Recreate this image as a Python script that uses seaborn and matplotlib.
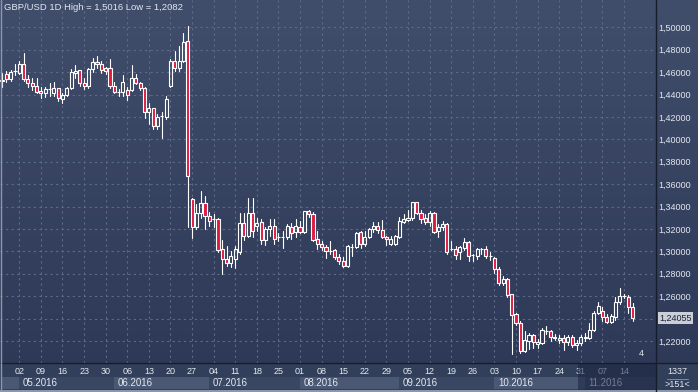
import numpy as np
import pandas as pd
import matplotlib
matplotlib.use("Agg")
import matplotlib.pyplot as plt
import seaborn as sns
from matplotlib.patches import Rectangle
from matplotlib.lines import Line2D
from matplotlib.colors import LinearSegmentedColormap

# ---------------- data (GBP/USD daily OHLC) ----------------
start_date = "2016-04-26"
opens = [1.452, 1.458, 1.454, 1.461, 1.459, 1.467, 1.454, 1.450, 1.448, 1.443,
         1.441, 1.445, 1.441, 1.446, 1.436, 1.440, 1.446, 1.459, 1.462, 1.450,
         1.448, 1.463, 1.469, 1.467, 1.464, 1.464, 1.448, 1.442, 1.442, 1.444,
         1.444, 1.455, 1.450, 1.446, 1.424, 1.428, 1.412, 1.421, 1.420, 1.448,
         1.470, 1.464, 1.470, 1.488, 1.347, 1.322, 1.334, 1.343, 1.332, 1.329,
         1.329, 1.302, 1.293, 1.290, 1.293, 1.299, 1.325, 1.314, 1.334,
         1.323, 1.326, 1.310, 1.320, 1.323, 1.313, 1.313, 1.313, 1.322, 1.317,
         1.322, 1.317, 1.336, 1.333, 1.311, 1.307, 1.304, 1.300, 1.301, 1.295,
         1.291, 1.287, 1.304, 1.304, 1.317, 1.307, 1.313, 1.320, 1.323,
         1.319, 1.313, 1.307, 1.307, 1.313, 1.326, 1.328, 1.330, 1.344, 1.334,
         1.330, 1.326, 1.334, 1.318, 1.322, 1.324, 1.302, 1.302, 1.299, 1.303,
         1.308, 1.297, 1.296, 1.302, 1.302, 1.296, 1.294, 1.284, 1.272,
         1.275, 1.262, 1.244, 1.236, 1.211, 1.220, 1.225, 1.217, 1.218, 1.229,
         1.229, 1.223, 1.221, 1.223, 1.219, 1.224, 1.216, 1.218, 1.223, 1.223,
         1.230, 1.245, 1.247, 1.241, 1.237, 1.241, 1.255, 1.260, 1.259, 1.250]
highs = [1.459, 1.461, 1.462, 1.467, 1.470, 1.477, 1.457, 1.455, 1.455, 1.447,
         1.447, 1.450, 1.451, 1.446, 1.441, 1.447, 1.463, 1.466, 1.462, 1.455,
         1.464, 1.473, 1.474, 1.470, 1.465, 1.472, 1.451, 1.445, 1.457, 1.447,
         1.466, 1.458, 1.451, 1.447, 1.432, 1.428, 1.423, 1.424, 1.439, 1.472,
         1.479, 1.483, 1.495, 1.5016, 1.348, 1.342, 1.354, 1.349, 1.335, 1.333,
         1.330, 1.310, 1.305, 1.300, 1.305, 1.334, 1.334, 1.348, 1.348,
         1.330, 1.329, 1.322, 1.329, 1.329, 1.316, 1.318, 1.324, 1.325, 1.329,
         1.327, 1.336, 1.337, 1.335, 1.318, 1.309, 1.306, 1.309, 1.302, 1.298,
         1.295, 1.306, 1.307, 1.317, 1.318, 1.318, 1.321, 1.326, 1.326,
         1.328, 1.314, 1.314, 1.315, 1.331, 1.333, 1.337, 1.344, 1.344, 1.337,
         1.333, 1.336, 1.335, 1.324, 1.327, 1.325, 1.309, 1.305, 1.305, 1.312,
         1.309, 1.298, 1.303, 1.303, 1.305, 1.299, 1.295, 1.286, 1.278,
         1.276, 1.262, 1.245, 1.238, 1.229, 1.227, 1.226, 1.222, 1.232, 1.233,
         1.230, 1.226, 1.225, 1.225, 1.225, 1.225, 1.221, 1.225, 1.227, 1.236,
         1.247, 1.255, 1.250, 1.244, 1.244, 1.259, 1.267, 1.262, 1.261, 1.254]
lows = [1.447, 1.451, 1.452, 1.457, 1.458, 1.452, 1.447, 1.444, 1.441, 1.437,
        1.438, 1.439, 1.439, 1.434, 1.432, 1.439, 1.445, 1.455, 1.448, 1.445,
        1.446, 1.460, 1.464, 1.459, 1.458, 1.446, 1.441, 1.439, 1.439, 1.435,
        1.443, 1.449, 1.444, 1.419, 1.414, 1.409, 1.409, 1.401, 1.418, 1.447,
        1.461, 1.461, 1.469, 1.322, 1.312, 1.320, 1.330, 1.320, 1.323, 1.322,
        1.299, 1.280, 1.287, 1.286, 1.285, 1.298, 1.310, 1.313, 1.313,
        1.318, 1.307, 1.306, 1.314, 1.307, 1.309, 1.303, 1.311, 1.311, 1.313,
        1.316, 1.316, 1.331, 1.309, 1.302, 1.301, 1.294, 1.298, 1.293, 1.289,
        1.286, 1.286, 1.296, 1.303, 1.303, 1.305, 1.312, 1.317, 1.316,
        1.312, 1.306, 1.306, 1.306, 1.312, 1.325, 1.327, 1.328, 1.333, 1.325,
        1.324, 1.323, 1.316, 1.313, 1.319, 1.298, 1.301, 1.293, 1.293, 1.301,
        1.291, 1.291, 1.293, 1.298, 1.294, 1.292, 1.281, 1.270, 1.270,
        1.259, 1.2082, 1.234, 1.209, 1.210, 1.213, 1.214, 1.214, 1.217, 1.226,
        1.220, 1.221, 1.218, 1.212, 1.216, 1.215, 1.212, 1.216, 1.220, 1.222,
        1.229, 1.244, 1.238, 1.236, 1.236, 1.239, 1.253, 1.258, 1.245, 1.238]
closes = [1.453, 1.454, 1.460, 1.4612, 1.467, 1.454, 1.450, 1.448, 1.442, 1.441,
          1.445, 1.4452, 1.446, 1.437, 1.440, 1.446, 1.460, 1.461, 1.450, 1.448,
          1.463, 1.469, 1.467, 1.462, 1.461, 1.448, 1.442, 1.4422, 1.451, 1.440,
          1.455, 1.450, 1.446, 1.424, 1.428, 1.412, 1.420, 1.4212, 1.436, 1.470,
          1.464, 1.470, 1.487, 1.367, 1.322, 1.334, 1.343, 1.332, 1.327, 1.3292,
          1.301, 1.293, 1.290, 1.296, 1.302, 1.325, 1.314, 1.334, 1.318,
          1.325, 1.310, 1.320, 1.323, 1.311, 1.3132, 1.3132, 1.323, 1.316, 1.323,
          1.317, 1.336, 1.333, 1.310, 1.307, 1.304, 1.300, 1.3002, 1.295, 1.291,
          1.287, 1.305, 1.3042, 1.316, 1.307, 1.313, 1.320, 1.323, 1.319,
          1.313, 1.311, 1.311, 1.314, 1.327, 1.329, 1.330, 1.344, 1.334, 1.329,
          1.326, 1.334, 1.317, 1.322, 1.324, 1.299, 1.3022, 1.297, 1.304, 1.308,
          1.296, 1.2972, 1.302, 1.3022, 1.296, 1.2962, 1.284, 1.272, 1.275,
          1.261, 1.243, 1.236, 1.211, 1.221, 1.225, 1.219, 1.219, 1.230, 1.2292,
          1.224, 1.224, 1.223, 1.219, 1.224, 1.216, 1.218, 1.224, 1.2232, 1.230,
          1.245, 1.251, 1.241, 1.237, 1.242, 1.255, 1.260, 1.2602, 1.250, 1.24055]
price_ticks = [1.22, 1.24, 1.26, 1.28, 1.30, 1.32, 1.34, 1.36, 1.38, 1.40,
               1.42, 1.44, 1.46, 1.48, 1.50]
title_text = "GBP/USD 1D High = 1,5016 Low = 1,2082"
corner_top, corner_bottom, corner_mark = "1337", ">151<", "4"

# ---------------- styling ----------------
sns.set_theme(style="dark")
plt.rcParams["font.family"] = ["Liberation Sans", "DejaVu Sans"]
TXT = "#e3e8f1"
W, H = 698, 392

o = np.array(opens); h = np.array(highs); l = np.array(lows); c = np.array(closes)
n = len(o)
x = np.arange(n)
dates = pd.bdate_range(start_date, periods=n)

fig = plt.figure(figsize=(W / 100, H / 100), dpi=100)

# gradient background
bg = fig.add_axes([0, 0, 1, 1], zorder=0)
cmap = LinearSegmentedColormap.from_list("bg", ["#2c3855", "#404d6b"])
bg.imshow(np.linspace(0, 1, 256).reshape(-1, 1)[::-1], aspect="auto", cmap=cmap,
          extent=[0, 1, 0, 1])
bg.set_axis_off()

ax = fig.add_axes([0, 29 / H, 656 / W, 363 / H], zorder=2)
ax.patch.set_alpha(0)

up = c >= o
body_lo = np.minimum(o, c)
body_hi = np.maximum(o, c)
body_h = np.maximum(body_hi - body_lo, 0.00012)

# wicks drawn with seaborn (two segments per candle so hollow bodies stay clean)
wick = pd.DataFrame({
    "x": np.concatenate([x, x, x, x]),
    "p": np.concatenate([h, body_hi, body_lo, l]),
    "u": np.concatenate([2 * x, 2 * x, 2 * x + 1, 2 * x + 1]),
    "k": np.concatenate([np.zeros(n), np.ones(n), np.zeros(n), np.ones(n)]),
}).sort_values(["u", "k"])
sns.lineplot(data=wick, x="x", y="p", units="u", estimator=None, sort=False,
             color="white", linewidth=0.8, ax=ax, legend=False)

ax.bar(x[up], body_h[up], bottom=body_lo[up], width=0.72, facecolor="none",
       edgecolor="white", linewidth=0.8, zorder=3)
ax.bar(x[~up], body_h[~up], bottom=body_lo[~up], width=0.72, facecolor="#de1a40",
       edgecolor="white", linewidth=0.8, zorder=3)

ax.set_xlim(-0.46, 151.4)
ax.set_ylim(1.20036, 1.52437)
ax.set_xlabel(""); ax.set_ylabel("")

mondays = np.where(dates.dayofweek == 0)[0]
ax.set_xticks(mondays)
ax.tick_params(axis="x", length=0, labelbottom=False)
ax.set_yticks(price_ticks)
# the tick label nearest the last-price marker is hidden behind it
ax.set_yticklabels(["" if abs(v - c[-1]) < 0.008 else f"{v:.5f}".replace(".", ",")
                    for v in price_ticks])
ax.yaxis.tick_right()
ax.tick_params(axis="y", length=0, pad=2, labelsize=6.5, labelcolor=TXT,
               labelright=True, labelleft=False)
ax.grid(True, color="#5d6b88", linestyle=(0, (2, 3)), linewidth=0.8)
for s in ["top", "left", "bottom", "right"]:
    ax.spines[s].set_visible(False)

# last price marker
ax.annotate(f"{c[-1]:.5f}".replace(".", ","), xy=(1.0, c[-1]),
            xycoords=("axes fraction", "data"), xytext=(2.5, 0),
            textcoords="offset points", ha="left", va="center", fontsize=6.5,
            color="#1c2233",
            bbox=dict(boxstyle="square,pad=0.15", fc="#c9ced8", ec="none"),
            annotation_clip=False, zorder=6)

ax.text(0.978, 0.015, corner_mark, transform=ax.transAxes, fontsize=6.5,
        color=TXT, ha="center", va="bottom")

# ---------------- date strip ----------------
ax2 = fig.add_axes([0, 0, 656 / W, 29 / H], zorder=2)
ax2.set_xlim(ax.get_xlim())
ax2.set_ylim(0, 29)
ax2.set_facecolor("#323f5a")
ax2.set_xticks([]); ax2.set_yticks([])
for s in ax2.spines.values():
    s.set_visible(False)

month_key = dates.year * 100 + dates.month
starts = [0] + [i for i in range(1, n) if month_key[i] != month_key[i - 1]]
ends = starts[1:] + [ax.get_xlim()[1]]
box_cols = ["#4b5874", "#3a4763"]
for k, (s0, e0) in enumerate(zip(starts, ends)):
    ax2.add_patch(Rectangle((s0, 3), e0 - s0, 12, fc=box_cols[k % 2], ec="none"))
    if k > 0:
        ax2.text(s0 + 0.8, 9, f"{dates[s0].month:02d}.{dates[s0].year}",
                 fontsize=7, color=TXT, ha="left", va="center")
for i in mondays:
    ax2.text(i, 20.5, f"{dates[i].day:02d}", fontsize=6.5, color=TXT,
             ha="center", va="center")
ax2.add_patch(Rectangle((133.4, 0), 30, 29, fc="#1a2440", alpha=0.55, ec="none",
                        zorder=5))
ax2.add_patch(Rectangle((-5, 0), 200, 2.5, fc="#8d97ab", ec="none", zorder=6))

# right-bottom cell
fig.add_artist(Rectangle((656 / W, 0), 42 / W, 29 / H, fc="#323f5a", ec="none",
                         transform=fig.transFigure, zorder=1))
fig.add_artist(Rectangle((656 / W, 0), 42 / W, 2.5 / H, fc="#8d97ab", ec="none",
                         transform=fig.transFigure, zorder=3))
fig.text(677 / W, 1 - 372 / H, corner_top, fontsize=6.5, color=TXT, ha="center",
         va="center", zorder=4)
fig.add_artist(Line2D([667 / W, 688 / W], [1 - 378.5 / H] * 2, color="#8d97ab",
                      lw=0.6, zorder=4))
fig.text(677 / W, 1 - 384.5 / H, corner_bottom, fontsize=6.5, color=TXT,
         ha="center", va="center", zorder=4)

# separator lines
fig.add_artist(Line2D([656 / W] * 2, [0, 1], color="#161d2c", lw=1.0, zorder=7))
fig.add_artist(Line2D([0, 1], [29 / H] * 2, color="#161d2c", lw=1.0, zorder=7))
fig.add_artist(Line2D([0.7 / W] * 2, [0, 1], color="#8d97ab", lw=1.0, zorder=7))

fig.text(4 / W, 1 - 8 / H, title_text, fontsize=6.8, color=TXT, ha="left",
         va="center", zorder=8)

fig.savefig("out.png", dpi=100)
